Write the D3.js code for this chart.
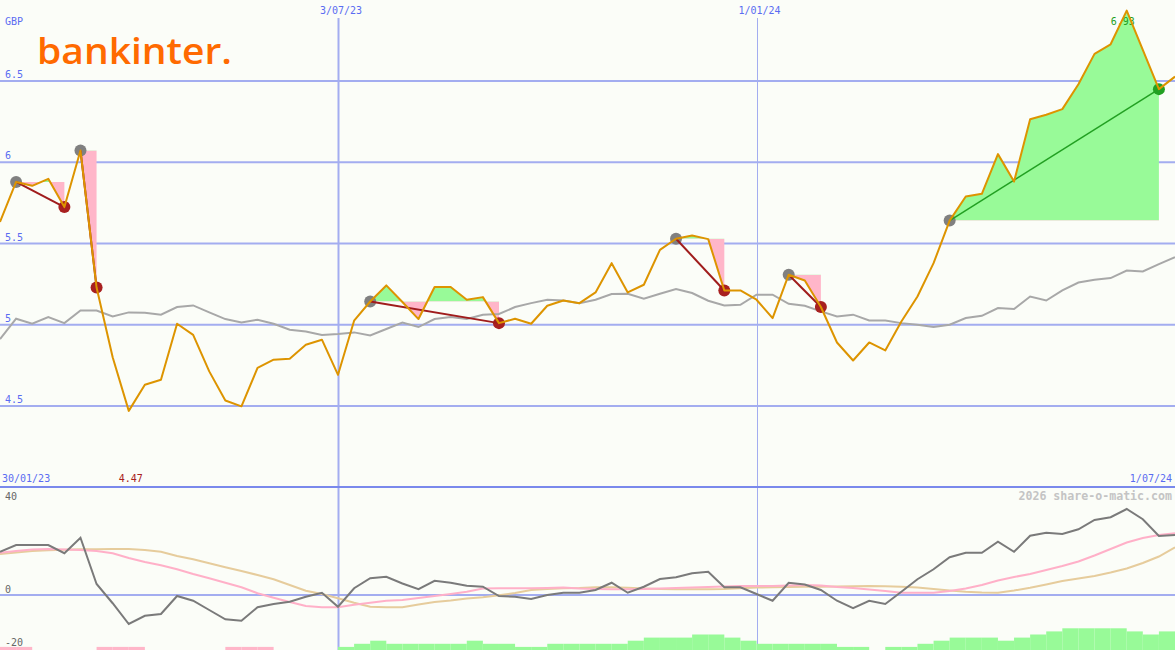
<!DOCTYPE html>
<html><head><meta charset="utf-8">
<script src="https://cdn.jsdelivr.net/npm/d3@7"></script>
<style>
html,body{margin:0;padding:0;background:#fbfdf8;overflow:hidden;}
svg{display:block;}
text{font-family:"DejaVu Sans Mono",monospace;font-size:10px;}
</style></head><body>
<svg id="c" width="1175" height="650"></svg>
<script>
// ---------- DATA ----------
const startDate = new Date(2023, 1, 6);
const endDate = new Date(2024, 6, 1);
const weeks = d3.timeMonday.range(startDate, d3.timeDay.offset(endDate, 1));

const price = [5.633, 5.879, 5.855, 5.898, 5.724, 6.072, 5.229, 4.80, 4.47, 4.631,
  4.662, 5.006, 4.938, 4.713, 4.534, 4.498, 4.734, 4.785, 4.791, 4.877,
  4.908, 4.692, 5.025, 5.143, 5.242, 5.14, 5.035, 5.232, 5.232, 5.154,
  5.170, 5.010, 5.037, 5.006, 5.117, 5.149, 5.133, 5.199, 5.379, 5.199,
  5.246, 5.461, 5.529, 5.549, 5.527, 5.211, 5.211, 5.154, 5.041, 5.308,
  5.272, 5.109, 4.891, 4.780, 4.891, 4.842, 5.020, 5.174, 5.379, 5.641,
  5.789, 5.806, 6.050, 5.881, 6.265, 6.292, 6.327, 6.480, 6.667, 6.726,
  6.933, 6.691, 6.450, 6.527];

const movingAvg = [4.912, 5.037, 5.006, 5.047, 5.010, 5.088, 5.088, 5.051, 5.076, 5.074,
  5.062, 5.109, 5.119, 5.076, 5.035, 5.014, 5.031, 5.006, 4.969, 4.959,
  4.937, 4.943, 4.953, 4.934, 4.974, 5.014, 4.986, 5.035, 5.047, 5.035,
  5.062, 5.066, 5.109, 5.133, 5.154, 5.149, 5.133, 5.154, 5.189, 5.191,
  5.160, 5.191, 5.220, 5.195, 5.148, 5.119, 5.123, 5.185, 5.185, 5.129,
  5.117, 5.082, 5.051, 5.062, 5.026, 5.026, 5.010, 5.000, 4.986, 5.000,
  5.041, 5.055, 5.103, 5.097, 5.174, 5.149, 5.211, 5.260, 5.277, 5.287,
  5.334, 5.328, 5.373, 5.416];

// [entry index, exit index]
const trades = [[1, 4], [5, 6], [23, 31], [42, 45], [49, 51], [59, 72]];

const momentum = [17.3, 20.0, 20.0, 20.0, 16.7, 22.9, 4.4, -3.3, -11.6, -8.3,
  -7.6, -0.4, -2.3, -6.0, -9.7, -10.3, -4.9, -3.6, -2.7, -0.7,
  0.9, -4.7, 2.7, 6.7, 7.3, 4.6, 2.3, 5.7, 4.9, 3.7,
  3.3, -0.4, -0.7, -1.6, 0.0, 0.9, 0.9, 2.0, 4.9, 0.9,
  3.3, 6.4, 7.1, 8.7, 9.3, 3.1, 3.1, 0.4, -2.3, 4.9,
  4.2, 2.0, -2.3, -5.3, -2.3, -3.6, 1.3, 6.3, 10.3, 15.1,
  16.9, 16.9, 21.3, 17.3, 23.7, 24.9, 24.4, 26.3, 30.0, 31.1,
  34.4, 30.3, 23.6, 24.0];

const pinkSignal = [16.9, 17.6, 18.2, 18.4, 18.2, 18.0, 17.6, 16.7, 14.8, 13.2,
  11.9, 10.3, 8.4, 6.7, 4.9, 3.1, 0.7, -1.1, -2.8, -4.4,
  -4.9, -4.9, -3.9, -3.1, -2.3, -2.0, -1.2, -0.4, 0.4, 1.3,
  2.6, 2.7, 2.7, 2.7, 2.8, 3.0, 2.6, 2.4, 2.3, 2.3,
  2.4, 2.6, 2.8, 3.0, 3.2, 3.4, 3.6, 3.6, 3.6, 3.8,
  4.0, 3.8, 3.2, 2.8, 2.2, 1.6, 0.9, 0.9, 0.9, 1.6,
  2.6, 4.0, 5.8, 7.2, 8.4, 10.0, 11.6, 13.4, 15.8, 18.4,
  21.0, 22.8, 24.0, 24.7];

const tanSignal = [16.4, 17.0, 17.6, 17.9, 18.1, 18.3, 18.3, 18.4, 18.4, 18.0,
  17.3, 15.6, 14.3, 12.7, 11.1, 9.6, 8.0, 6.3, 4.0, 1.7,
  0.4, -1.3, -3.1, -4.7, -4.9, -4.9, -3.8, -2.8, -2.2, -1.4,
  -0.9, -0.1, 0.8, 2.0, 2.4, 2.7, 2.8, 3.1, 3.1, 2.9,
  2.6, 2.4, 2.3, 2.3, 2.3, 2.4, 2.7, 3.0, 3.1, 3.2,
  3.3, 3.3, 3.4, 3.5, 3.6, 3.5, 3.3, 3.0, 2.4, 1.8,
  1.3, 1.0, 0.9, 1.8, 2.9, 4.2, 5.6, 6.6, 7.6, 9.0,
  10.6, 12.8, 15.4, 19.1];

// histogram per weekly interval (sign = colour)
const histLevels = [-1, -1, 0, 0, 0, 0, -1, -1, -1, 0,
  0, 0, 0, 0, -1, -1, -1, 0, 0, 0,
  0, 1, 2, 3, 2, 2, 2, 2, 2, 3,
  2, 2, 1, 1, 2, 2, 2, 2, 2, 3,
  4, 4, 4, 5, 5, 4, 3, 2, 2, 2,
  2, 2, 1, 1, 0, 1, 1, 2, 3, 4,
  4, 4, 3, 4, 5, 6, 7, 7, 7, 7,
  6, 5, 6];

const priceTicks = [4.5, 5, 5.5, 6, 6.5];
const priceTickLabels = ["4.5", "5", "5.5", "6", "6.5"];
const dateTicks = [new Date(2023, 6, 3), new Date(2024, 0, 1)];
const dateTickLabels = ["3/07/23", "1/01/24"];
const indTicks = [40, 0, -20];
const indTickLabels = ["40", "0", "-20"];
const currency = "GBP";
const startLabel = "30/01/23";
const endLabel = "1/07/24";
const watermark = "2026 share-o-matic.com";
const logoText = "bankinter.";

// ---------- DRAW ----------
const W = 1175, H = 650;
const svg = d3.select("#c");
const defs = svg.append("defs");
svg.append("rect").attr("width", W).attr("height", H).attr("fill", "#fbfdf8");

const x = d3.scaleTime().domain([startDate, endDate]).range([0, W]);
const y = d3.scaleLinear().domain([4.5, 6.5]).range([406, 81]);
const yi = d3.scaleLinear().domain([-20, 40]).range([645, 495]);
const hBar = d3.scaleLinear().domain([0, 7]).range([0, 21.7]);

const C = {
  grid: "#a3adf0", sep: "#7a89ec", blue: "#5a6cf2", orange: "#dd9400",
  ma: "#a8a8a8", green: "#98fa98", pink: "#ffb6c9", loss: "#a01c1c",
  red: "#a82020", grey: "#808080", win: "#22a022",
  mom: "#7a7a7a", psig: "#ffb0c8", tsig: "#e6cc9c"
};

// horizontal grid
svg.append("g").selectAll("line").data(priceTicks).join("line")
  .attr("x1", 0).attr("x2", W).attr("y1", d => y(d)).attr("y2", d => y(d))
  .attr("stroke", C.grid).attr("stroke-width", 2);
svg.append("line").attr("x1", 0).attr("x2", W).attr("y1", yi(0)).attr("y2", yi(0))
  .attr("stroke", C.grid).attr("stroke-width", 2);
// vertical grid
svg.append("g").selectAll("line").data(dateTicks).join("line")
  .attr("x1", d => Math.round(x(d)) + 0.5).attr("x2", d => Math.round(x(d)) + 0.5)
  .attr("y1", 18).attr("y2", H)
  .attr("stroke", C.grid).attr("stroke-width", (d, i) => i === 0 ? 2 : 1);
// separator
svg.append("line").attr("x1", 0).attr("x2", W).attr("y1", 487).attr("y2", 487)
  .attr("stroke", C.sep).attr("stroke-width", 2);

// trade fills
const fills = svg.append("g");
trades.forEach((t, k) => {
  const idx = d3.range(t[0], t[1] + 1);
  const yl = y(price[t[0]]);
  const ar = d3.area().x(i => x(weeks[i])).y0(yl).y1(i => y(price[i]));
  defs.append("clipPath").attr("id", "ca" + k).append("rect")
    .attr("x", 0).attr("y", 0).attr("width", W).attr("height", yl);
  defs.append("clipPath").attr("id", "cb" + k).append("rect")
    .attr("x", 0).attr("y", yl).attr("width", W).attr("height", H - yl);
  fills.append("path").attr("d", ar(idx)).attr("fill", C.green).attr("clip-path", `url(#ca${k})`);
  fills.append("path").attr("d", ar(idx)).attr("fill", C.pink).attr("clip-path", `url(#cb${k})`);
});

// histogram bars
svg.append("g").selectAll("rect").data(histLevels.map((v, j) => ({v, j})).filter(d => d.v !== 0)).join("rect")
  .attr("x", d => x(weeks[d.j])).attr("width", d => x(weeks[d.j + 1]) - x(weeks[d.j]))
  .attr("y", d => H - hBar(Math.abs(d.v))).attr("height", d => hBar(Math.abs(d.v)))
  .attr("fill", d => d.v > 0 ? C.green : C.pink);

// moving average
const lineP = d3.line().x((d, i) => x(weeks[i])).y(d => y(d));
svg.append("path").attr("d", lineP(movingAvg)).attr("fill", "none")
  .attr("stroke", C.ma).attr("stroke-width", 2);

// indicator lines
const lineI = d3.line().x((d, i) => x(weeks[i])).y(d => yi(d));
svg.append("path").attr("d", lineI(tanSignal)).attr("fill", "none").attr("stroke", C.tsig).attr("stroke-width", 2);
svg.append("path").attr("d", lineI(pinkSignal)).attr("fill", "none").attr("stroke", C.psig).attr("stroke-width", 2);
svg.append("path").attr("d", lineI(momentum)).attr("fill", "none").attr("stroke", C.mom).attr("stroke-width", 2);

// text labels
const tx = svg.append("g");
tx.append("text").attr("x", 5).attr("y", 25).attr("fill", C.blue).text(currency);
priceTicks.forEach((v, i) => tx.append("text").attr("x", 5).attr("y", y(v) - 3).attr("fill", C.blue).text(priceTickLabels[i]));
dateTicks.forEach((d, i) => tx.append("text").attr("x", x(d) + 3).attr("y", 14).attr("text-anchor", "middle").attr("fill", C.blue).text(dateTickLabels[i]));
tx.append("text").attr("x", 2).attr("y", 482).attr("fill", C.blue).text(startLabel);
tx.append("text").attr("x", 1172).attr("y", 482).attr("text-anchor", "end").attr("fill", C.blue).text(endLabel);
const iMin = d3.minIndex(price), iMax = d3.maxIndex(price);
tx.append("text").attr("x", x(weeks[iMin]) + 2).attr("y", 482).attr("text-anchor", "middle").attr("fill", C.red).text(d3.format(".2f")(price[iMin]));
tx.append("text").attr("x", x(weeks[iMax]) - 4).attr("y", 25).attr("text-anchor", "middle").attr("fill", C.win).text(d3.format(".2f")(price[iMax]));
tx.append("text").attr("x", 1172).attr("y", 500).attr("text-anchor", "end").attr("fill", "#c4c4c4")
  .style("font-size", "11.6px").style("font-weight", "bold").text(watermark);
indTicks.forEach((v, i) => tx.append("text").attr("x", 5).attr("y", [500, 592.5, 646][i]).attr("fill", "#666").text(indTickLabels[i]));

// logo
svg.append("text").attr("x", 37).attr("y", 64).text(logoText)
  .style("font-family", "'Open Sans', sans-serif").style("font-size", "36px").style("font-weight", "600")
  .attr("fill", "#ff6a00").attr("textLength", 195).attr("lengthAdjust", "spacingAndGlyphs");

// circles
const cg = svg.append("g");
trades.forEach(t => {
  const win = price[t[1]] > price[t[0]];
  cg.append("circle").attr("cx", x(weeks[t[0]])).attr("cy", y(price[t[0]])).attr("r", 6).attr("fill", C.grey);
  cg.append("circle").attr("cx", x(weeks[t[1]])).attr("cy", y(price[t[1]])).attr("r", 6).attr("fill", win ? C.win : C.red);
});
// trade lines
trades.forEach(t => {
  const win = price[t[1]] > price[t[0]];
  svg.append("line").attr("x1", x(weeks[t[0]])).attr("y1", y(price[t[0]]))
    .attr("x2", x(weeks[t[1]])).attr("y2", y(price[t[1]]))
    .attr("stroke", win ? C.win : C.loss).attr("stroke-width", win ? 1.5 : 2);
});

// price line
svg.append("path").attr("d", lineP(price)).attr("fill", "none")
  .attr("stroke", C.orange).attr("stroke-width", 2).attr("stroke-linejoin", "round");
</script>
</body></html>
